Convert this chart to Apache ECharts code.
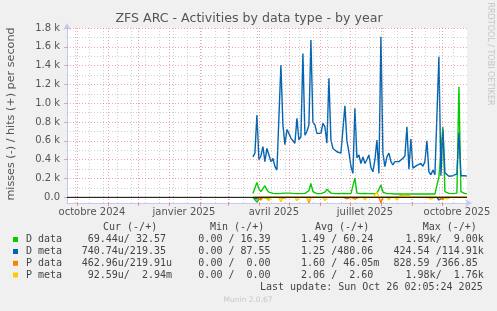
<!DOCTYPE html>
<html><head><meta charset="utf-8">
<script src="https://cdn.jsdelivr.net/npm/echarts@6/dist/echarts.min.js"></script>
<style>html,body{margin:0;padding:0;background:#f0f0f0;}#c{width:497px;height:311px;}</style>
</head><body><div id="c"></div>
<script>
// ---- axis range and ticks ----
const xStart = '2024-09-21T02:05:00Z';
const xEnd = '2025-10-26T02:05:00Z';
const xLabelDates = ['2024-10-16','2025-01-16','2025-04-16','2025-07-16','2025-10-16'];
const xLabels = ['octobre 2024','janvier 2025','avril 2025','juillet 2025','octobre 2025'];
const monthStarts = ['2024-10-01','2024-11-01','2024-12-01','2025-01-01','2025-02-01','2025-03-01','2025-04-01','2025-05-01','2025-06-01','2025-07-01','2025-08-01','2025-09-01','2025-10-01'];
const minorDates = ['2024-09-29','2024-10-13','2024-10-27','2024-11-10','2024-11-24','2024-12-08','2024-12-22','2025-01-05','2025-01-19','2025-02-02','2025-02-16','2025-03-02','2025-03-16','2025-03-30','2025-04-13','2025-04-27','2025-05-11','2025-05-25','2025-06-08','2025-06-22','2025-07-06','2025-07-20','2025-08-03','2025-08-17','2025-08-31','2025-09-14','2025-09-28','2025-10-12'];
const yMin = -60, yMax = 1800;
const yTicks = [0,200,400,600,800,1000,1200,1400,1600,1800];
const yTickLabels = ['0.0','0.2 k','0.4 k','0.6 k','0.8 k','1.0 k','1.2 k','1.4 k','1.6 k','1.8 k'];
const yMinorTicks = [100,300,500,700,900,1100,1300,1500,1700];

// ---- data: one sample every 2 days starting at dataStart ----
const dataStart = '2025-03-26T00:00:00Z';
const stepDays = 2;
const dMetaHits = [430,470,875,400,440,540,380,520,450,380,
 415,330,290,300,1406,770,560,720,680,630,
 645,575,840,610,645,1530,660,700,770,1672,
 800,770,680,690,680,787,750,575,1265,610,
 520,500,485,500,470,450,974,600,480,330,
 255,946,420,450,360,430,360,400,450,320,
 272,400,609,255,1708,470,326,430,470,380,
 344,380,400,380,400,415,440,750,300,620,
 310,330,340,320,360,330,380,600,270,240,
 290,240,235,1495,230,720,260,240,225,235,
 230,240,250,690,230,220,230,225];
const dDataHits = [40,100,159,90,60,50,124,80,55,45,
 42,40,40,40,42,40,45,40,45,40,
 42,45,40,42,40,40,42,45,70,148,
 60,42,40,40,40,42,55,85,80,45,
 40,40,40,40,40,42,40,40,40,40,
 60,205,45,40,40,40,42,40,40,40,
 40,40,42,45,131,55,40,40,40,40,
 35,35,35,35,38,35,35,35,35,35,
 35,35,35,35,35,35,35,35,35,35,
 35,35,40,220,200,750,60,50,42,40,
 40,42,45,1176,60,42,40,40];
// sparse (index -> value), all other samples are 0
const dDataMiss = {2:-50,3:-20,7:-10};
const dMetaMiss = {2:-15,93:-28,94:-12};
const pDataMiss = {4:-28,6:-21,8:-15,15:-10,22:-12,28:-57,36:-12,47:-15,51:-18,64:-57,80:-12,95:-25,99:-20};
const pMetaMiss = {8:-35,14:-46,22:-35,28:-40,36:-35,56:-25,68:-25,72:-30,76:-20,89:-20,97:-15};
const pDataHits = {73:15,74:18,75:18,76:15,77:18,78:15,79:12};
const pMetaHits = {62:55,74:15,75:20,76:18,77:15};

const colors = {dData:'#00cc00', dMeta:'#0066b3', pData:'#ff8000', pMeta:'#ffcc00'};

const T = s => new Date(s.length === 10 ? s + 'T00:00:00Z' : s).getTime();
const N = dMetaHits.length;
const t0 = T(dataStart);
const times = Array.from({length:N}, (_, i) => t0 + i * stepDays * 86400000);
const full = sp => times.map((_, i) => sp[i] !== undefined ? sp[i] : 0);
const pairs = arr => times.map((t, i) => [t, arr[i]]);

function lineSeries(name, arr, color, z) {
  return {name, type:'line', data: pairs(arr), showSymbol:false, symbol:'none',
    lineStyle:{color, width:1.4}, itemStyle:{color}, z, animation:false, silent:true};
}

const xMinT = T(xStart), xMaxT = T(xEnd);
const xLabelTimes = xLabelDates.map(T);

const chart = echarts.init(document.getElementById('c'), null, {renderer:'canvas'});
const dotRed = {type:[1,2], color:'rgba(230,90,90,0.55)', width:1};
const dotGrey = {type:[1,2], color:'rgba(150,150,150,0.45)', width:1};

const mono = '10px "DejaVu Sans Mono"';
const rowsY = [239.5, 251.5, 263.3, 275];
const names = ['D data','D meta','P data','P meta'];
const boxColors = [colors.dData, colors.dMeta, colors.pData, colors.pMeta];
const cur = [' 69.44u/ 32.57','740.74u/219.35','462.96u/219.91u',' 92.59u/  2.94m'];
const mins = ['  0.00 / 16.39','  0.00 / 87.55','  0.00 /  0.00','  0.00 /  0.00'];
const avgs = ['  1.49 / 60.24','  1.25 /480.06','  1.60 / 46.05m','  2.06 /  2.60'];
const maxs = ['  1.89k/  9.00k','424.54 /114.91k','828.59 /366.85','  1.98k/  1.76k'];
const headers = ['Cur (-/+)','Min (-/+)','Avg (-/+)','Max (-/+)'];
const headerX = [103, 210, 315, 422.7];
const colX = [81.7, 186.3, 289, 393.5];

const txt = (x, y, text, font, fill, align, extra) => Object.assign({type:'text', x, y, silent:true,
  style:{text, font, fill, align: align || 'left', verticalAlign:'middle'}}, extra || {});

const graphic = [];
graphic.push(txt(249, 19, 'ZFS ARC - Activities by data type - by year', '12.6px "DejaVu Sans"', '#555', 'center'));
graphic.push(txt(11.5, 114, 'misses (-) / hits (+) per second', '11.2px "DejaVu Sans"', '#555', 'center', {rotation: Math.PI/2}));
graphic.push(txt(490, 54, 'RRDTOOL / TOBI OETIKER', '8px "DejaVu Sans"', '#c4c4c4', 'center', {rotation: -Math.PI/2}));
headers.forEach((h, i) => graphic.push(txt(headerX[i], 227, h, mono, '#444')));
names.forEach((n, r) => {
  graphic.push({type:'rect', silent:true, shape:{x:13, y:rowsY[r]-2.5, width:5, height:5}, style:{fill:boxColors[r]}});
  graphic.push(txt(26, rowsY[r], n, mono, '#444'));
  [cur, mins, avgs, maxs].forEach((col, c) => graphic.push(txt(colX[c], rowsY[r], col[r], mono, '#444')));
});
graphic.push(txt(482.7, 287.5, 'Last update: Sun Oct 26 02:05:24 2025', mono, '#444', 'right'));
graphic.push(txt(248, 300, 'Munin 2.0.67', '7.5px "DejaVu Sans"', '#c8c8c8', 'center'));

const axisCol = '#c8c8f0';
const option = {
  backgroundColor:'#f0f0f0',
  animation:false,
  grid:{left:67, right:30, top:28, bottom:108, show:true, backgroundColor:'#ffffff', borderWidth:0},
  xAxis:{type:'value', min:xMinT, max:xMaxT,
    axisLine:{onZero:false, lineStyle:{color:axisCol, width:1}, symbol:['none','arrow'], symbolSize:[6,7], symbolOffset:[0,5]},
    axisTick:{show:true, customValues: monthStarts.map(T), length:3, lineStyle:{color:'rgba(230,90,90,0.6)'}},
    axisLabel:{customValues: xLabelTimes, margin:4, color:'#555', fontFamily:'DejaVu Sans', fontSize:10,
      formatter: v => { let best = 0; xLabelTimes.forEach((t, i) => { if (Math.abs(t - v) < Math.abs(xLabelTimes[best] - v)) best = i; }); return xLabels[best]; }},
    splitLine:{show:false}},
  yAxis:{type:'value', min:yMin, max:yMax,
    axisLine:{show:true, onZero:false, lineStyle:{color:axisCol, width:1}, symbol:['none','arrow'], symbolSize:[6,7], symbolOffset:[0,5]},
    axisTick:{show:true, customValues: yTicks, length:3, lineStyle:{color:'#bbbbbb'}},
    axisLabel:{customValues: yTicks, margin:7, color:'#555', fontFamily:'DejaVu Sans', fontSize:10,
      formatter: v => { const i = yTicks.indexOf(Math.round(v)); return i >= 0 ? yTickLabels[i] : ''; }},
    splitLine:{show:false}},
  graphic,
  series:[
    {name:'grid-minor', type:'line', data:[[xMinT, yMax*2]], showSymbol:false, z:0, silent:true, animation:false,
      lineStyle:{opacity:0},
      markLine:{silent:true, symbol:['none','none'], label:{show:false}, animation:false, lineStyle:dotGrey,
        data: minorDates.map(d => ({xAxis:T(d)})).concat(yMinorTicks.map(v => ({yAxis:v})))}},
    {name:'grid-major', type:'line', data:[[xMinT, yMax*2]], showSymbol:false, z:0, silent:true, animation:false,
      lineStyle:{opacity:0},
      markLine:{silent:true, symbol:['none','none'], label:{show:false}, animation:false, lineStyle:dotRed,
        data: monthStarts.map(d => ({xAxis:T(d)})).concat(yTicks.filter(v => v > 0).map(v => ({yAxis:v})))}},
    lineSeries('D data hits', dDataHits, colors.dData, 3),
    lineSeries('D data misses', full(dDataMiss), colors.dData, 3),
    lineSeries('D meta hits', dMetaHits, colors.dMeta, 4),
    lineSeries('D meta misses', full(dMetaMiss), colors.dMeta, 4),
    lineSeries('P data hits', full(pDataHits), colors.pData, 5),
    lineSeries('P data misses', full(pDataMiss), colors.pData, 5),
    lineSeries('P meta hits', full(pMetaHits), colors.pMeta, 6),
    lineSeries('P meta misses', full(pMetaMiss), colors.pMeta, 6),
    {name:'zero', type:'line', data:[[xMinT,0],[xMaxT,0]], showSymbol:false, symbol:'none', z:10, silent:true, animation:false,
      lineStyle:{color:'#000', width:1}}
  ]
};
chart.setOption(option);
</script>
</body></html>
